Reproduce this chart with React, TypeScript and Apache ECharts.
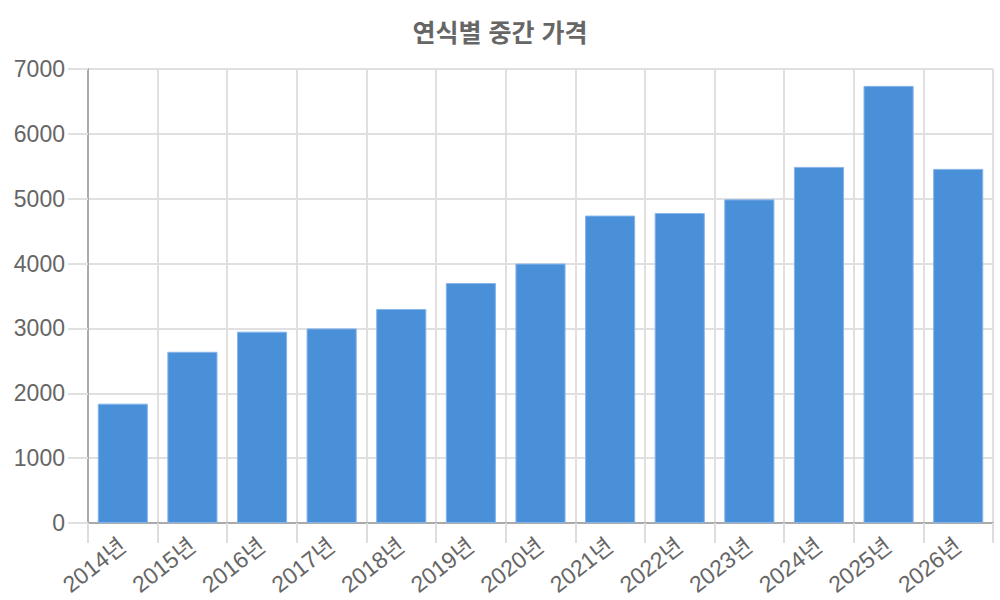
import React, { useEffect, useRef } from 'react';
import * as echarts from 'echarts';

// 연도별 카테고리
const years = [
  '2014년', '2015년', '2016년', '2017년', '2018년', '2019년', '2020년',
  '2021년', '2022년', '2023년', '2024년', '2025년', '2026년',
];

// 연식별 중간 가격
const medianPrices = [1840, 2640, 2950, 3000, 3300, 3700, 4000, 4740, 4780, 4990, 5490, 6740, 5460];

const FONT = '"Liberation Sans", Arial, "Noto Sans CJK KR", sans-serif';

const App: React.FC = () => {
  const chartRef = useRef<HTMLDivElement>(null);

  useEffect(() => {
    document.body.style.margin = '0';
    if (!chartRef.current) return;

    const chart = echarts.init(chartRef.current, undefined, { renderer: 'svg' });

    const option: any = {
      animation: false,
      textStyle: { fontFamily: FONT },
      title: {
        text: '연식별 중간 가격',
        left: 'center',
        top: 20,
        padding: 0,
        textStyle: {
          fontFamily: FONT,
          fontSize: 25,
          fontWeight: 'bold',
          color: '#666',
        },
      },
      grid: {
        left: 88,
        right: 7,
        top: 69,
        bottom: 77,
        containLabel: false,
        outerBoundsMode: 'none',
      },
      xAxis: {
        type: 'category',
        data: years,
        boundaryGap: true,
        axisLine: { lineStyle: { color: '#aaa', width: 2 } },
        axisTick: { show: true, length: 20, lineStyle: { color: '#ddd', width: 2 } },
        splitLine: { show: true, lineStyle: { color: '#e0e0e0', width: 2 } },
        axisLabel: {
          rotate: 38,
          margin: 20,
          fontSize: 23,
          color: '#666',
          fontFamily: FONT,
          interval: 0,
        },
      },
      yAxis: {
        type: 'value',
        min: 0,
        max: 7000,
        interval: 1000,
        axisLine: { show: true, lineStyle: { color: '#aaa', width: 2 } },
        axisTick: { show: true, length: 20, lineStyle: { color: '#e0e0e0', width: 2 } },
        splitLine: { show: true, lineStyle: { color: '#e0e0e0', width: 2 } },
        axisLabel: {
          margin: 23,
          fontSize: 23,
          color: '#666',
          fontFamily: FONT,
          formatter: (v: number) => String(v),
        },
      },
      series: [
        {
          name: '중간 가격',
          type: 'bar',
          data: medianPrices,
          barCategoryGap: '28%',
          itemStyle: {
            color: '#4a90d9',
            borderColor: '#86b5ea',
            borderWidth: 1,
          },
        },
      ],
    };

    chart.setOption(option);

    return () => {
      chart.dispose();
    };
  }, []);

  return <div ref={chartRef} style={{ width: '1000px', height: '600px' }} />;
};

export default App;
